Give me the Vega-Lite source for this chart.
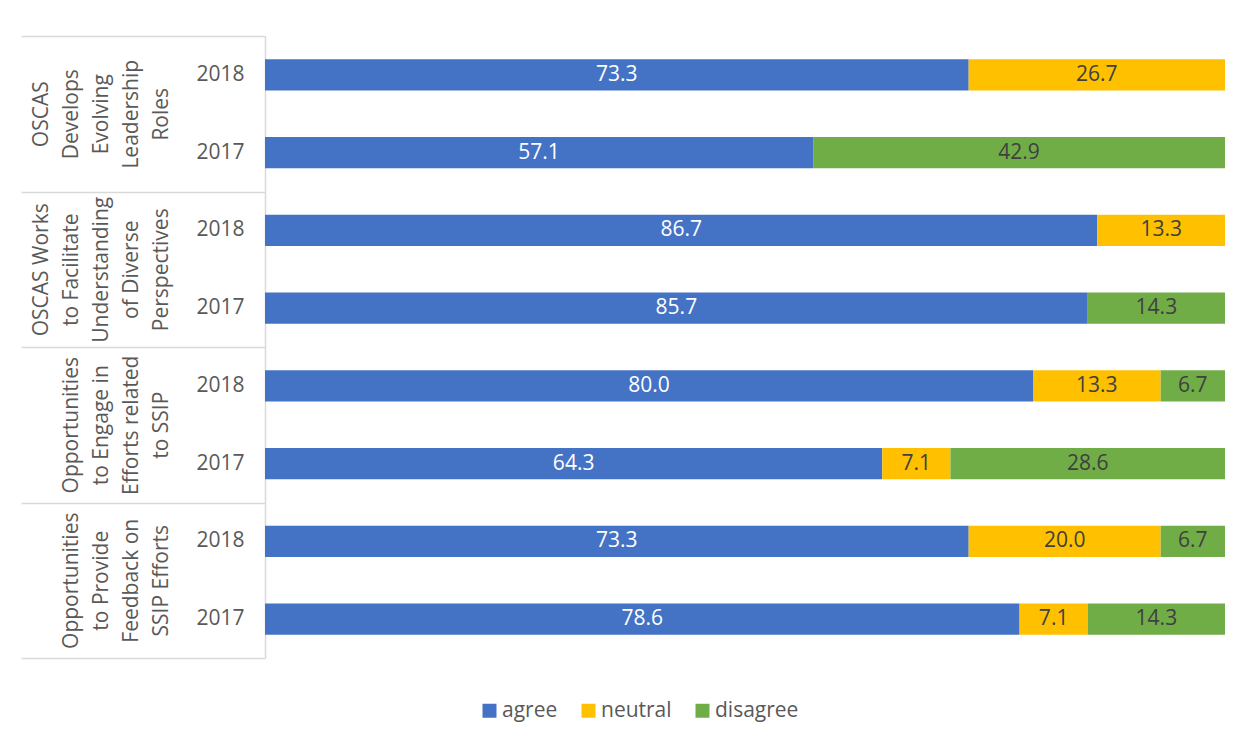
{
  "$schema": "https://vega.github.io/schema/vega-lite/v6.json",
  "autosize": "none",
  "width": 960,
  "height": 622,
  "padding": {"left": 265, "top": 36, "right": 25, "bottom": 86},
  "background": "white",
  "config": {"font": "Open Sans", "view": {"stroke": null}},
  "data": {
    "values": [
      {"group": "OSCAS\nDevelops\nEvolving\nLeadership\nRoles", "year": "2018", "resp": "agree", "value": 73.3},
      {"group": "OSCAS\nDevelops\nEvolving\nLeadership\nRoles", "year": "2018", "resp": "neutral", "value": 26.7},
      {"group": "OSCAS\nDevelops\nEvolving\nLeadership\nRoles", "year": "2017", "resp": "agree", "value": 57.1},
      {"group": "OSCAS\nDevelops\nEvolving\nLeadership\nRoles", "year": "2017", "resp": "disagree", "value": 42.9},
      {"group": "OSCAS Works\nto Facilitate\nUnderstanding\nof Diverse\nPerspectives", "year": "2018", "resp": "agree", "value": 86.7},
      {"group": "OSCAS Works\nto Facilitate\nUnderstanding\nof Diverse\nPerspectives", "year": "2018", "resp": "neutral", "value": 13.3},
      {"group": "OSCAS Works\nto Facilitate\nUnderstanding\nof Diverse\nPerspectives", "year": "2017", "resp": "agree", "value": 85.7},
      {"group": "OSCAS Works\nto Facilitate\nUnderstanding\nof Diverse\nPerspectives", "year": "2017", "resp": "disagree", "value": 14.3},
      {"group": "Opportunities\nto Engage in\nEfforts related\nto SSIP", "year": "2018", "resp": "agree", "value": 80.0},
      {"group": "Opportunities\nto Engage in\nEfforts related\nto SSIP", "year": "2018", "resp": "neutral", "value": 13.3},
      {"group": "Opportunities\nto Engage in\nEfforts related\nto SSIP", "year": "2018", "resp": "disagree", "value": 6.7},
      {"group": "Opportunities\nto Engage in\nEfforts related\nto SSIP", "year": "2017", "resp": "agree", "value": 64.3},
      {"group": "Opportunities\nto Engage in\nEfforts related\nto SSIP", "year": "2017", "resp": "neutral", "value": 7.1},
      {"group": "Opportunities\nto Engage in\nEfforts related\nto SSIP", "year": "2017", "resp": "disagree", "value": 28.6},
      {"group": "Opportunities\nto Provide\nFeedback on\nSSIP Efforts", "year": "2018", "resp": "agree", "value": 73.3},
      {"group": "Opportunities\nto Provide\nFeedback on\nSSIP Efforts", "year": "2018", "resp": "neutral", "value": 20.0},
      {"group": "Opportunities\nto Provide\nFeedback on\nSSIP Efforts", "year": "2018", "resp": "disagree", "value": 6.7},
      {"group": "Opportunities\nto Provide\nFeedback on\nSSIP Efforts", "year": "2017", "resp": "agree", "value": 78.6},
      {"group": "Opportunities\nto Provide\nFeedback on\nSSIP Efforts", "year": "2017", "resp": "neutral", "value": 7.1},
      {"group": "Opportunities\nto Provide\nFeedback on\nSSIP Efforts", "year": "2017", "resp": "disagree", "value": 14.3}
    ]
  },
  "transform": [
    {"calculate": "datum.group + '|' + datum.year", "as": "row"},
    {"calculate": "indexof(['agree','neutral','disagree'], datum.resp)", "as": "ri"},
    {"stack": "value", "groupby": ["row"], "sort": [{"field": "ri", "order": "ascending"}], "as": ["x0", "x1"]},
    {"calculate": "(datum.x0 + datum.x1) / 2", "as": "xm"}
  ],
  "layer": [
    {
      "layer": [
        {
          "mark": {"type": "bar"},
          "encoding": {
            "y": {
              "field": "row", "type": "nominal", "sort": null,
              "scale": {"paddingInner": 0.6, "paddingOuter": 0.3},
              "axis": {
                "orient": "left", "title": null, "ticks": false,
                "domain": true, "domainColor": "#D9D9D9", "domainWidth": 1.5,
                "labelExpr": "split(datum.label, '|')[1]",
                "labelPadding": 21, "labelFontSize": 21, "labelColor": "#595959",
                "labelFont": "Open Sans"
              }
            },
            "x": {"field": "x0", "type": "quantitative", "scale": {"domain": [0, 100], "nice": false}, "axis": null},
            "x2": {"field": "x1"},
            "color": {
              "field": "resp", "type": "nominal",
              "scale": {"domain": ["agree", "neutral", "disagree"], "range": ["#4472C4", "#FFC000", "#70AD47"]},
              "legend": {
                "title": null, "orient": "none", "direction": "horizontal",
                "legendX": 214, "legendY": 664,
                "symbolType": "square", "symbolSize": 196, "symbolStrokeWidth": 0,
                "labelFontSize": 21, "labelColor": "#595959", "labelFont": "Open Sans",
                "columnPadding": 20, "labelOffset": 2
              }
            }
          }
        },
        {
          "mark": {"type": "text", "align": "center", "baseline": "middle", "fontSize": 21, "font": "Open Sans"},
          "encoding": {
            "y": {"field": "row", "type": "nominal", "sort": null},
            "x": {"field": "xm", "type": "quantitative"},
            "text": {"field": "value", "type": "quantitative", "format": ".1f"},
            "color": {"condition": {"test": "datum.resp === 'agree'", "value": "white"}, "value": "#404040"}
          }
        }
      ]
    },
    {
      "mark": {"type": "text", "text": "", "opacity": 0},
      "encoding": {
        "y": {
          "field": "group", "type": "nominal", "sort": null,
          "scale": {"paddingInner": 0, "paddingOuter": 0},
          "axis": {
            "orient": "left", "title": null, "domain": false,
            "ticks": true, "tickBand": "extent", "tickSize": 244,
            "tickColor": "#D9D9D9", "tickWidth": 1.5,
            "labelAngle": -90, "labelAlign": "center", "labelBaseline": "bottom",
            "labelExpr": "split((indexof(datum.label, 'OSCAS') >= 0 ? '' : '\\n') + datum.label, '\\n')",
            "labelLineHeight": 30, "labelPadding": -30,
            "labelFontSize": 21, "labelColor": "#595959", "labelFont": "Open Sans",
            "labelLimit": 0, "labelOverlap": false, "labelBound": false, "labelFlush": false
          }
        }
      }
    }
  ],
  "resolve": {"scale": {"y": "independent"}, "axis": {"y": "independent"}}
}
